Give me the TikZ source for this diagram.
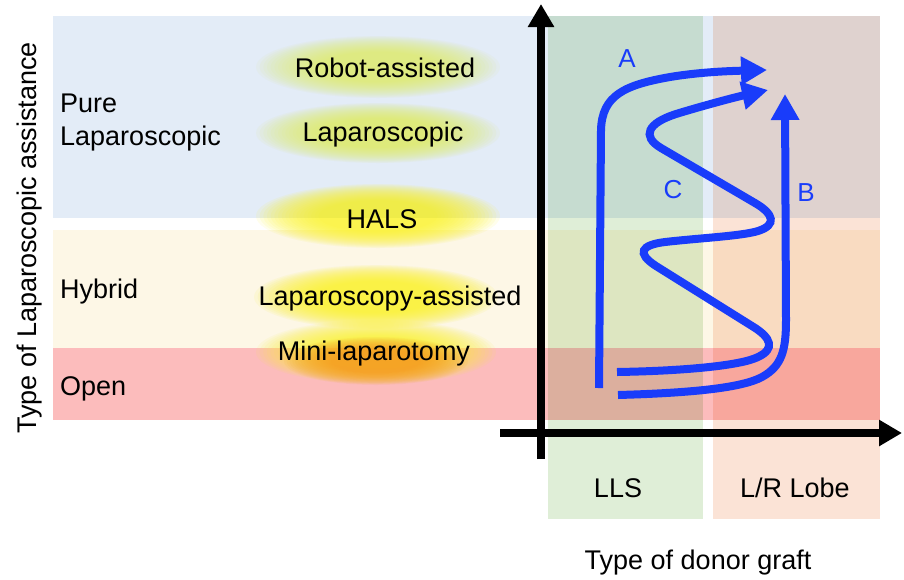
\documentclass[tikz,border=0pt]{standalone}
\usepackage{fontspec}
\setmainfont{Liberation Sans}
\usetikzlibrary{arrows.meta}
\definecolor{bandblue}{RGB}{227,236,247}
\definecolor{bandyellow}{RGB}{253,247,230}
\definecolor{bandred}{RGB}{252,188,188}
\definecolor{colgreen}{RGB}{223,238,215}
\definecolor{colpeach}{RGB}{251,227,214}
\definecolor{curveblue}{RGB}{25,60,250}
\definecolor{glowgreen}{RGB}{222,234,80}
\definecolor{glowyellow}{RGB}{250,242,40}
\definecolor{gloworange}{RGB}{245,150,30}
% soft glow: many nested ellipses of low opacity
\newcommand\myglow[6]{% color, opacity, x, y, rx, ry
  \foreach \k in {0,...,17}{%
    \fill[#1, fill opacity=#2] (#3,#4) ellipse [x radius={#5*(1-0.03*\k)}, y radius={#6*(1-0.03*\k)}];}}
\begin{document}
\begin{tikzpicture}[x=1pt,y=-1pt,
  lbl/.style={font=\fontsize{27}{32}\selectfont, inner sep=0pt},
  blbl/.style={font=\fontsize{26}{30}\selectfont, inner sep=0pt, text=curveblue},
  axisline/.style={line width=8pt, -{Triangle[length=23pt,width=25pt]}},
  curveline/.style={draw=curveblue, line width=8pt, -{Triangle[length=26pt,width=27pt]}}]
\useasboundingbox (0,0) rectangle (904,579);
% bands
\fill[bandblue] (53,16) rectangle (880,218);
\fill[bandyellow] (53,230) rectangle (880,348);
\fill[bandred] (53,348) rectangle (880,420);
% columns
\begin{scope}[blend mode=multiply]
\fill[colgreen] (548,16) rectangle (703,519);
\fill[colpeach] (713,16) rectangle (880,519);
\end{scope}
% glows
\myglow{glowgreen}{0.06}{378}{67}{122}{31}
\myglow{glowgreen}{0.065}{378}{133}{122}{30}
\myglow{glowyellow}{0.09}{378}{216}{122}{32}
\myglow{glowyellow}{0.09}{376}{297}{122}{32}
\myglow{glowyellow}{0.075}{376}{352}{120}{32}
\myglow{gloworange}{0.07}{376}{361}{92}{24}
% axes
\coordinate (yb) at (541,459);
\coordinate (yt) at (541,4);
\coordinate (xl) at (500,433);
\coordinate (xr) at (902,433);
\draw[axisline] (yb) -- (yt);
\draw[axisline] (xl) -- (xr);
% curves
\coordinate (a0) at (599,388);
\coordinate (a1) at (767,70);
\draw[curveline] (a0) -- (601,130) .. controls (602,95) and (625,85) .. (670,77) .. controls (700,72) and (730,71) .. (a1);
\coordinate (c0) at (617,372);
\coordinate (c1) at (768,90);
\draw[curveline] (c0) .. controls (680,371) and (740,366) .. (758,357)
  .. controls (775,349) and (772,338) .. (752,326)
  -- (656,266)
  .. controls (636,253) and (641,245) .. (665,242)
  .. controls (700,238) and (742,236) .. (758,231)
  .. controls (777,225) and (774,214) .. (755,203)
  -- (661,148)
  .. controls (641,136) and (648,123) .. (676,114)
  .. controls (702,106) and (736,97) .. (c1);
\coordinate (b0) at (618,395);
\coordinate (b1) at (785,94);
\draw[curveline] (b0) .. controls (690,393) and (742,388) .. (762,377) .. controls (782,366) and (786,350) .. (786,320) -- (b1);
% labels
\node[blbl, anchor=base] (la) at (627,67) {A};
\node[blbl, anchor=base] (lc) at (673,198) {C};
\node[blbl, anchor=base] (lb) at (806,201) {B};
\node[lbl, anchor=base west] (pure) at (60,112) {Pure};
\node[lbl, anchor=base west] (purelap) at (60,145) {Laparoscopic};
\node[lbl, anchor=base west] (hybrid) at (60,298) {Hybrid};
\node[lbl, anchor=base west] (open) at (60,395) {Open};
\node[lbl, anchor=base] (robot) at (385,77) {Robot-assisted};
\node[lbl, anchor=base] (lap) at (383,141) {Laparoscopic};
\node[lbl, anchor=base] (hals) at (382,228) {HALS};
\node[lbl, anchor=base] (lapass) at (390,305) {Laparoscopy-assisted};
\node[lbl, anchor=base] (mini) at (374,360) {Mini-laparotomy};
\node[lbl, anchor=base] (lls) at (618,497) {LLS};
\node[lbl, anchor=base] (lrl) at (795,497) {L/R Lobe};
\node[lbl, anchor=base] (xlab) at (698,569) {Type of donor graft};
\node[lbl, anchor=base, rotate=90] (ylab) at (36,238) {Type of Laparoscopic assistance};
\end{tikzpicture}
\end{document}
